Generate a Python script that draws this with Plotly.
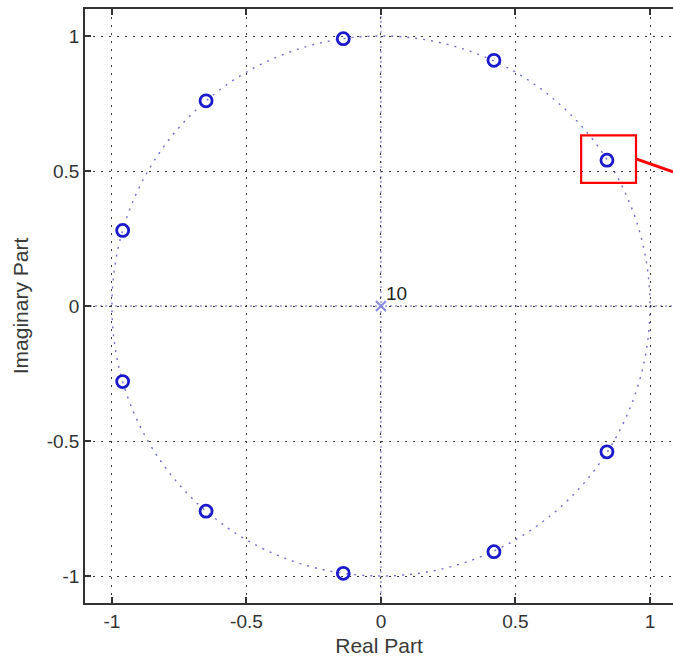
import plotly.graph_objects as go

zero_re = [0.84, 0.42, -0.14, -0.65, -0.96, -0.96, -0.65, -0.14, 0.42, 0.84]
zero_im = [0.54, 0.91, 0.99, 0.76, 0.28, -0.28, -0.76, -0.99, -0.91, -0.54]
pole_re = [0.0]
pole_im = [0.0]
pole_order = "10"
tick_vals = [-1, -0.5, 0, 0.5, 1]
tick_text = ["-1", "-0.5", "0", "0.5", "1"]

FONT = "Liberation Sans, Arial, sans-serif"

fig = go.Figure()
fig.add_trace(go.Scatter(
    x=zero_re, y=zero_im, mode="markers",
    marker=dict(symbol="circle-open", size=12, color="#1a1acc", line=dict(width=2.8, color="#1a1acc")),
    showlegend=False, hoverinfo="skip"))
fig.add_trace(go.Scatter(
    x=pole_re, y=pole_im, mode="markers",
    marker=dict(symbol="x-thin-open", size=10, color="#8a8ae0", line=dict(width=2.2, color="#8a8ae0")),
    showlegend=False, hoverinfo="skip"))

fig.add_annotation(x=pole_re[0], y=pole_im[0], text=pole_order, showarrow=False,
                   xanchor="left", yanchor="bottom", xshift=3, yshift=0,
                   font=dict(family=FONT, size=19, color="#222"))

# unit circle
fig.add_shape(type="circle", xref="x", yref="y", x0=-1, y0=-1, x1=1, y1=1,
              line=dict(color="#6f6fcc", width=1.4, dash="2px,6px"), layer="below")
# axes lines through origin (dotted, bluish)
fig.add_shape(type="line", xref="paper", yref="y", x0=0, x1=1, y0=0, y1=0,
              line=dict(color="#9a9ad6", width=1.4, dash="2px,3px"), layer="below")
fig.add_shape(type="line", xref="x", yref="paper", x0=0, x1=0, y0=0, y1=1,
              line=dict(color="#9a9ad6", width=1.4, dash="2px,3px"), layer="below")
# red highlight box and pointer
fig.add_shape(type="rect", xref="x", yref="y", x0=0.744, x1=0.948, y0=0.456, y1=0.632,
              line=dict(color="#ff0000", width=2.2))
fig.add_shape(type="line", xref="x", yref="y", x0=0.948, y0=0.545, x1=1.0855, y1=0.497,
              line=dict(color="#ff0000", width=2.8))

axis_common = dict(
    tickvals=tick_vals, ticktext=tick_text,
    showgrid=True, gridcolor="#3a3a3a", griddash="2px,6px", gridwidth=1.2,
    zeroline=False, showline=True, linecolor="#333333", linewidth=1.6,
    ticks="inside", ticklen=6, tickwidth=1.6, tickcolor="#333333",
    tickfont=dict(family=FONT, size=19, color="#333333"),
    automargin=False,
)

fig.update_xaxes(range=[-1.1, 1.0855], mirror="ticks",
                 title=dict(text="Real Part", standoff=8,
                            font=dict(family=FONT, size=21, color="#3a3a3a")),
                 **axis_common)
fig.update_yaxes(range=[-1.1, 1.1],
                 title=dict(text="Imaginary Part", standoff=12,
                            font=dict(family=FONT, size=21, color="#3a3a3a")),
                 **axis_common)

fig.update_layout(
    width=673, height=660,
    margin=dict(l=85, r=0, t=9, b=57),
    plot_bgcolor="white", paper_bgcolor="white",
    showlegend=False,
)

fig.write_html("out.html", config={"displayModeBar": False},
               post_script="document.body.style.margin='0';document.body.style.overflow='hidden';")
